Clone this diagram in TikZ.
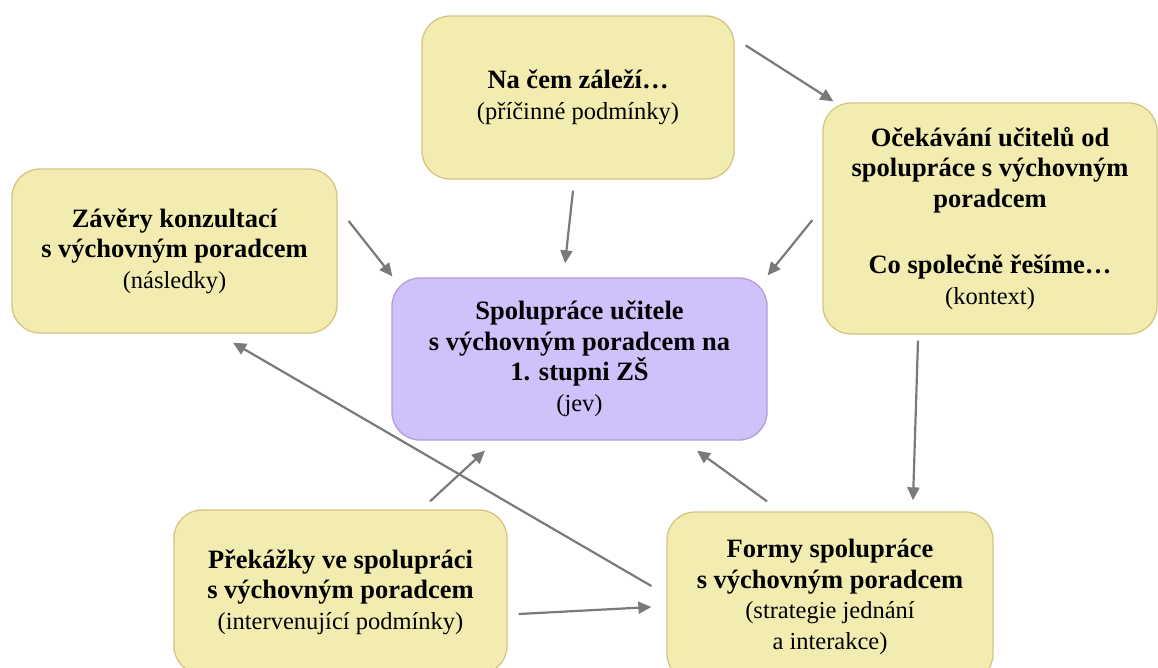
\documentclass[tikz,border=0pt]{standalone}
\usepackage{fontspec}
\setmainfont{Liberation Serif}
\usetikzlibrary{arrows.meta,calc}
\definecolor{boxyellow}{HTML}{F3ECB0}
\definecolor{boxyellowline}{HTML}{D3C683}
\definecolor{boxpurple}{HTML}{CFC1FA}
\definecolor{boxpurpleline}{HTML}{B59DD6}
\definecolor{arrowgray}{HTML}{7A7A7A}
\newcommand{\hdtxt}[1]{{\fontsize{26.5}{30.5}\selectfont\bfseries #1}}
\tikzset{
  catbox/.style={draw=boxyellowline, fill=boxyellow, line width=1.3pt,
    rounded corners=28pt, align=center, inner sep=0pt,
    font=\fontsize{24.5}{30.5}\selectfont},
  jevbox/.style={catbox, draw=boxpurpleline, fill=boxpurple},
  link/.style={draw=arrowgray, line width=2.2pt,
    -{Triangle[length=13pt,width=12pt]}}
}
\begin{document}
\begin{tikzpicture}[x=1pt,y=-1pt]
\useasboundingbox (0,0) rectangle (1158,667);
\clip (0,0) rectangle (1158,667);
\fill[white] (0,0) rectangle (1158,667);

\node[catbox, minimum width=312pt, minimum height=163pt] (top) at (578,97.5)
  {\hdtxt{Na čem záleží…}\\(příčinné podmínky)};
\node[catbox, minimum width=334pt, minimum height=231pt] (right) at (990,218.5)
  {\hdtxt{Očekávání učitelů od}\\\hdtxt{spolupráce s výchovným}\\\hdtxt{poradcem}\\[36pt]\hdtxt{Co společně řešíme…}\\(kontext)};
\node[catbox, minimum width=325pt, minimum height=164pt] (left) at (174.5,251)
  {\hdtxt{Závěry konzultací}\\\hdtxt{s výchovným poradcem}\\(následky)};
\node[jevbox, minimum width=375pt, minimum height=162pt] (jev) at (579.5,359)
  {\hdtxt{Spolupráce učitele}\\\hdtxt{s výchovným poradcem na}\\\hdtxt{1. stupni ZŠ}\\(jev)};
\node[catbox, minimum width=333pt, minimum height=164pt] (botleft) at (340.5,592)
  {\hdtxt{Překážky ve spolupráci}\\\hdtxt{s výchovným poradcem}\\(intervenující podmínky)};
\node[catbox, minimum width=326pt, minimum height=170pt] (botright) at (830,597)
  {\hdtxt{Formy spolupráce}\\\hdtxt{s výchovným poradcem}\\(strategie jednání\\a interakce)};

\draw[link] ($(top.north east)+(11,30)$) -- ($(right.north west)+(11,-1)$);
\draw[link] ($(top.south)+(-5,11)$) -- ($(jev.north)+(-14.5,-14)$);
\draw[link] ($(right.west)+(-10,1.5)$) -- ($(jev.north east)+(0,-2)$);
\draw[link] ($(left.east)+(11,-30)$) -- ($(jev.north west)+(1,-1)$);
\draw[link] ($(right.south)+(-72,6)$) -- ($(botright.north)+(83,-11)$);
\draw[link] ($(botright.north)+(-63,-10)$) -- ($(jev.south)+(117.5,10)$);
\draw[link] ($(botleft.north)+(89.5,-8)$) -- ($(jev.south)+(-94.5,10)$);
\draw[link] ($(botright.west)+(-15,-11)$) -- ($(left.south)+(58.5,9)$);
\draw[link] ($(botleft.east)+(11,22)$) -- ($(botright.west)+(-15,10)$);
\end{tikzpicture}
\end{document}
